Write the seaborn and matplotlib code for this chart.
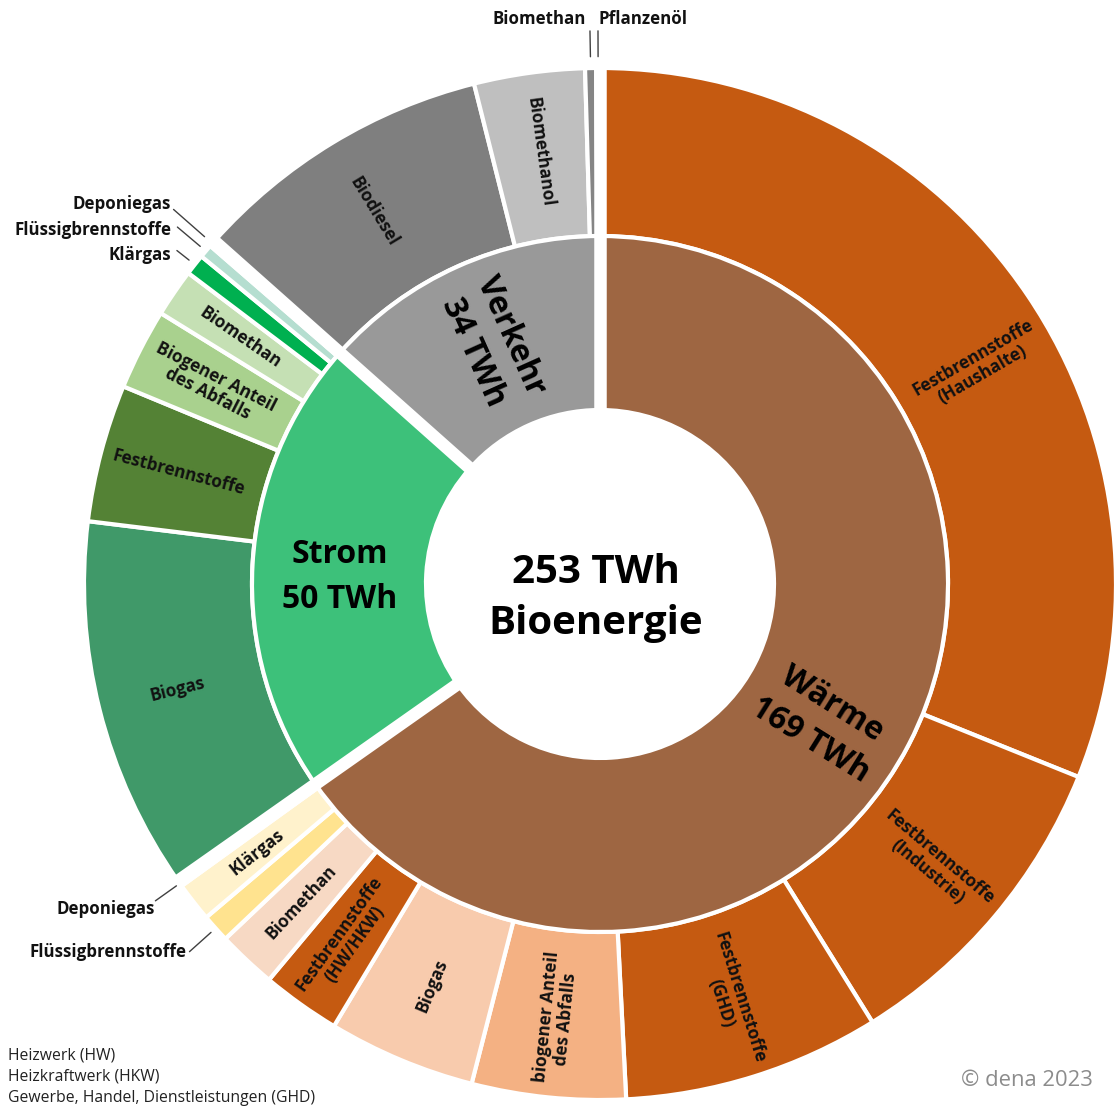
import numpy as np
import matplotlib
matplotlib.use("Agg")
import matplotlib.pyplot as plt
import seaborn as sns

# ---------------- data (TWh) ----------------
group_names = ["Wärme", "Strom", "Verkehr"]
group_twh_labels = [169, 50, 34]
total_twh_label = 253
center_title = "Bioenergie"

waerme_items = ["Festbrennstoffe\n(Haushalte)", "Festbrennstoffe\n(Industrie)",
                "Festbrennstoffe\n(GHD)", "biogener Anteil\ndes Abfalls", "Biogas",
                "Festbrennstoffe\n(HW/HKW)", "Biomethan", "Flüssigbrennstoffe",
                "Klärgas", "Deponiegas"]
waerme_values = [80.8, 26.1, 20.9, 12.5, 12.0, 6.4, 4.8, 2.3, 3.2, 0.5]

strom_items = ["Biogas", "Festbrennstoffe", "Biogener Anteil\ndes Abfalls", "Biomethan",
               "Klärgas", "Flüssigbrennstoffe", "Deponiegas"]
strom_values = [30.4, 11.2, 6.6, 3.9, 1.7, 1.1, 0.5]

verkehr_items = ["Biodiesel", "Biomethanol", "Biomethan", "Pflanzenöl"]
verkehr_values = [24.7, 9.0, 0.9, 0.3]

footnotes = ["Heizwerk (HW)", "Heizkraftwerk (HKW)", "Gewerbe, Handel, Dienstleistungen (GHD)"]
copyright_text = "© dena 2023"

# ---------------- style ----------------
inner_colors = ["#9E6642", "#3DC17A", "#999999"]
waerme_colors = ["#C55A11", "#C55A11", "#C55A11", "#F4B183", "#F8CBAD",
                 "#C55A11", "#F7D9C4", "#FFE38F", "#FFF2CC", "#FFF2CC"]
strom_colors = ["#409969", "#548235", "#A9D18E", "#C5E0B4", "#00B050", "#B5DED0", "#E2F0D9"]
verkehr_colors = ["#7F7F7F", "#BFBFBF", "#858585", "#595959"]

sns.set_theme(style="white")
plt.rcParams["font.family"] = ["Open Sans", "DejaVu Sans"]
TXT = "#111111"

W, H = 1114, 1108
CX, CY, R_PX = 600, 584, 516
R_MID = 348 / R_PX
R_IN = 174 / R_PX
INSIDE_MIN = 3.0

fig = plt.figure(figsize=(W / 100, H / 100), dpi=100)
ax = fig.add_axes([0, 0, 1, 1])

outer_values = waerme_values + strom_values + verkehr_values
outer_items = waerme_items + strom_items + verkehr_items
outer_colors = waerme_colors + strom_colors + verkehr_colors
group_sizes = [len(waerme_values), len(strom_values), len(verkehr_values)]
inner_values = [sum(waerme_values), sum(strom_values), sum(verkehr_values)]

edge = dict(edgecolor="white", linewidth=3.0)
ax.pie(outer_values, radius=1.0, startangle=90, counterclock=False, colors=outer_colors,
       wedgeprops=dict(width=1.0 - R_MID, **edge))
ax.pie(inner_values, radius=R_MID, startangle=90, counterclock=False, colors=inner_colors,
       wedgeprops=dict(width=R_MID - R_IN, **edge))

total = sum(outer_values)


def polar(theta, r):
    phi = np.deg2rad(90 - theta)
    return r * np.cos(phi), r * np.sin(phi)


def px(x, y):
    """pixel position of the picture -> data coordinates"""
    return (x - CX) / R_PX, (CY - y) / R_PX


def radial_rotation(theta):
    rot = (90 - theta + 180) % 360 - 180
    if rot > 90:
        rot -= 180
    elif rot < -90:
        rot += 180
    return rot


# clockwise angles
cum = np.concatenate([[0], np.cumsum(outer_values)]) / total * 360
mids = (cum[:-1] + cum[1:]) / 2
gcum = np.concatenate([[0], np.cumsum(inner_values)]) / total * 360
gmids = (gcum[:-1] + gcum[1:]) / 2

# white gaps between the groups
for th in gcum[:-1]:
    x0, y0 = polar(th, R_IN - 0.02)
    x1, y1 = polar(th, 1.03)
    ax.plot([x0, x1], [y0, y1], color="white", lw=9, solid_capstyle="butt", zorder=3)

# labels inside the outer ring
angle_override = {0: 60.0}
for i, (name, val) in enumerate(zip(outer_items, outer_values)):
    if val < INSIDE_MIN:
        continue
    th = angle_override.get(i, mids[i])
    x, y = polar(th, 0.845)
    ax.text(x, y, name, rotation=radial_rotation(th), rotation_mode="anchor",
            ha="center", va="center", fontsize=12.3, fontweight="bold", color=TXT,
            linespacing=1.05, zorder=5)

# external labels for the small pieces: index -> (leader r0, leader r1, text px, ha)
offs = group_sizes[0]
offv = group_sizes[0] + group_sizes[1]
ext = {
    9: (1.008, 1.058, (155, 909), "right"),          # Wärme Deponiegas
    7: (1.012, 1.068, (186, 952), "right"),          # Wärme Flüssigbrennstoffe
    offs + 4: (1.014, 1.044, (171, 255), "right"),   # Strom Klärgas
    offs + 5: (1.014, 1.072, (171, 230), "right"),   # Strom Flüssigbrennstoffe
    offs + 6: (1.02, 1.10, (171, 204), "right"),     # Strom Deponiegas
    offv + 2: (1.022, 1.072, (586, 19), "right"),    # Verkehr Biomethan
    offv + 3: (1.022, 1.072, (598, 19), "left"),     # Verkehr Pflanzenöl
}
for i, (r0, r1, (tx, ty), ha) in ext.items():
    th = mids[i]
    x0, y0 = polar(th, r0)
    x1, y1 = polar(th, r1)
    ax.plot([x0, x1], [y0, y1], color="#404040", lw=1.0, zorder=6)
    xt, yt = px(tx, ty)
    ax.text(xt, yt, outer_items[i], ha=ha, va="center", fontsize=12.2,
            fontweight="bold", color=TXT)

# inner ring labels
inner_pos = {0: (122.0, 0.505, None, 1.35), 1: (271.5, 0.505, 0.0, 1.48),
             2: (gmids[2], 0.51, None, 1.35)}
for g, (name, twh) in enumerate(zip(group_names, group_twh_labels)):
    th, r, rot, ls = inner_pos[g]
    x, y = polar(th, r)
    if rot is None:
        rot = radial_rotation(th)
    ax.text(x, y, f"{name}\n{twh} TWh", rotation=rot, rotation_mode="anchor",
            ha="center", va="center", fontsize=23, fontweight="bold", color="black",
            linespacing=ls, zorder=5)

# centre
xc, yc = px(596, 598)
ax.text(xc, yc, f"{total_twh_label} TWh\n{center_title}", ha="center", va="center",
        fontsize=29, fontweight="bold", color="black", linespacing=1.38)

ax.set_xlim(-CX / R_PX, (W - CX) / R_PX)
ax.set_ylim(-(H - CY) / R_PX, CY / R_PX)
ax.set_aspect("equal")
ax.axis("off")

for k, line in enumerate(footnotes):
    fig.text(8 / W, 1 - (1055 + 21.5 * k) / H, line, ha="left", va="center",
             fontsize=11.3, color="#222222")
fig.text(1093 / W, 1 - 1080 / H, copyright_text, ha="right", va="center",
         fontsize=15.8, color="#8C8C8C")

fig.savefig("out.png", dpi=100, facecolor="white")
